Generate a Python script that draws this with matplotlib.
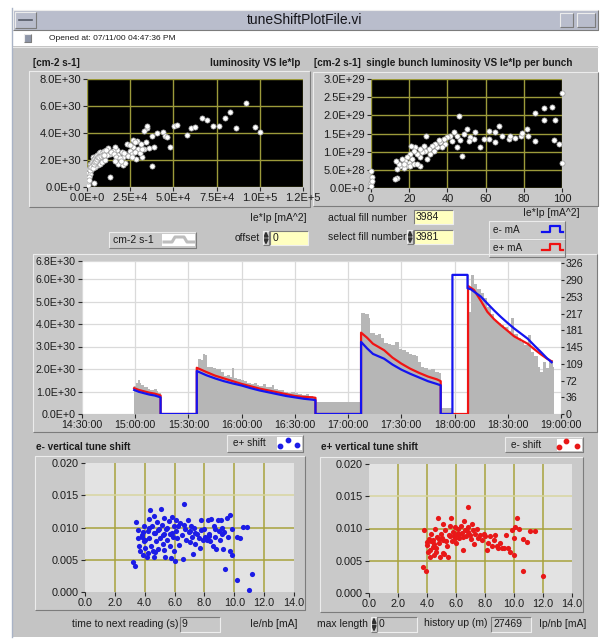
import matplotlib.pyplot as plt
from matplotlib.patches import Rectangle, Polygon
from matplotlib.ticker import FixedLocator

plt.rcParams['font.family'] = ['Liberation Sans', 'DejaVu Sans']

# ---- luminosity vs Ie*Ip (total) ----
lum_x = [92000, 82800, 79900, 66300, 69600, 72700, 76400, 86500, 97200, 100100,
         59900, 62400, 50200, 52100, 57900, 48200, 43900, 40400, 37500, 45300,
         46300, 34600, 35000, 32700, 34200, 29200, 26400, 23300, 26800, 29700,
         33200, 31700, 28400, 22900, 21000, 18100, 20600, 22000, 13200, 37500,
         17100, 16100, 14800, 13200, 11300, 12200, 18100, 20000, 24900, 25900,
         3500, 5400, 7400, 9300, 6400, 4500, 2500, 1600, 1200, 800,
         600, 4300, 1900, 3100, 7400, 8400, 10300, 400, 700, 900,
         1100, 1400, 1800, 2200, 2600, 3000, 3500, 4000, 4600, 5200,
         6000, 6800, 7600, 8600, 9800, 11000, 500, 800, 1200, 1500,
         2000, 2500, 3200, 3800, 4400, 5000, 5600, 6200, 7000, 8000,
         9000, 10000, 300, 600, 1000, 1300, 14000, 15500, 16500, 19000,
         21500, 24000, 26000, 27500, 30500, 32000, 36000, 38500, 25000, 28000,
         31000, 16000, 19500]
lum_y = [6.21, 5.52, 5.09, 5.12, 4.97, 4.52, 4.52, 4.40, 4.47, 4.10,
         4.40, 4.47, 4.52, 4.60, 3.85, 2.98, 4.10, 4.02, 3.78, 3.78,
         3.73, 4.35, 4.52, 4.17, 3.35, 3.40, 3.48, 3.18, 2.98, 2.83,
         2.78, 2.19, 2.11, 2.36, 2.24, 1.74, 1.61, 1.79, 0.75, 1.54,
         2.73, 2.98, 2.68, 2.48, 2.36, 2.86, 2.36, 2.61, 2.68, 2.48,
         2.24, 1.99, 2.11, 2.29, 1.61, 1.49, 1.24, 0.99, 0.75, 0.50,
         0.25, 0.30, 1.74, 1.61, 1.74, 1.86, 1.99, 0.35, 0.60, 0.90,
         1.10, 1.30, 1.45, 1.55, 1.70, 1.85, 1.95, 2.05, 2.15, 2.30,
         2.40, 2.50, 2.60, 2.55, 2.70, 2.75, 0.70, 1.05, 1.35, 1.00,
         1.25, 1.45, 1.40, 1.70, 1.85, 1.95, 2.05, 2.20, 2.25, 2.30,
         2.40, 2.35, 0.15, 0.45, 0.75, 0.55, 2.60, 2.45, 2.20, 2.15,
         2.55, 2.30, 2.20, 2.60, 2.50, 2.85, 2.90, 3.00, 3.10, 3.30,
         3.20, 1.90, 1.95]  # 1e30 cm-2 s-1

# ---- single bunch luminosity vs Ie*Ip per bunch ----
sb_x = [46.1, 47.6, 13.6, 12.7, 0.2, 0.2, 0.2, 100, 100, 98.3,
        96.5, 96.0, 94.8, 90.4, 90.4, 86.0, 85.7, 81.7, 82.0, 78.7,
        79.0, 75.6, 72.1, 72.6, 68.6, 66.8, 65.1, 65.1, 61.6, 61.6,
        59.0, 57.2, 53.8, 54.6, 52.0, 51.1, 50.3, 48.5, 46.8, 45.0,
        43.3, 42.4, 41.5, 39.8, 38.9, 38.0, 37.2, 36.3, 35.4, 34.6,
        33.7, 32.8, 31.9, 31.1, 30.2, 29.3, 28.8, 28.4, 27.6, 26.7,
        25.8, 25.5, 24.1, 23.2, 22.3, 21.5, 20.9, 20.2, 19.7, 18.8,
        18.5, 18.0, 17.1, 16.2, 15.4, 14.5, 13.6, 13.3, 20.6, 22.3,
        17.1, 25.8, 24.1, 45.0, 0.4, 0.3]
sb_y = [1.98, 0.88, 0.28, 0.26, 0.47, 0.14, 0.05, 2.61, 0.70, 1.21,
        1.86, 1.32, 2.22, 2.19, 1.86, 2.07, 1.30, 1.63, 1.42, 1.44,
        1.51, 1.38, 1.35, 1.42, 1.44, 1.70, 1.54, 1.26, 1.58, 1.35,
        1.35, 1.12, 1.35, 1.54, 1.40, 1.30, 1.63, 1.49, 1.32, 1.42,
        1.54, 1.30, 1.44, 1.40, 1.21, 1.35, 1.12, 1.26, 1.32, 1.12,
        1.21, 1.02, 1.16, 0.93, 1.07, 0.79, 1.42, 1.02, 1.16, 0.98,
        0.84, 1.07, 0.93, 1.12, 1.02, 0.79, 1.16, 0.93, 0.70, 0.84,
        0.61, 0.75, 0.56, 0.79, 0.61, 0.65, 0.51, 0.75, 0.61, 0.65,
        0.65, 0.61, 0.65, 1.12, 0.30, 0.20]  # 1e29 cm-2 s-1

# ---- fill history, minutes after 14:30:00 ----
lum_t = [29.4, 30.3, 31.5, 32.5, 33.5, 34.8, 36.0, 37.2, 38.4, 39.6, 40.8, 42.0, 43.0, 44.3,
         64.7, 65.5, 66.8, 68.0, 69.2, 70.3, 72.0, 74.0, 75.5, 77.0, 78.5, 80.0, 81.5, 83.5,
         84.5, 85.5, 87.5, 89.5, 91.5, 93.0, 95.0, 97.0, 98.5, 100.0, 102.0, 103.5, 105.0,
         107.0, 108.5, 110.5, 112.5, 114.0, 116.0, 118.0, 120.0, 122.0, 124.0, 126.0, 128.0,
         130.0, 131.5,
         157.3, 159.8, 161.6, 162.6, 164.9, 166.7, 168.7, 170.5, 172.4, 174.3, 176.7, 178.6,
         180.5, 182.4, 184.3, 186.2, 188.0, 189.5, 191.0, 193.0, 195.0, 197.0, 199.0, 201.0,
         202.2, 208.8,
         217.6, 218.2, 219.1, 221.0, 222.9, 224.8, 226.6, 228.5, 230.4, 232.3, 234.2, 236.1,
         238.0, 239.9, 241.7, 243.6, 245.5, 247.4, 249.3, 251.2, 253.0, 254.9, 256.8, 258.3,
         259.7, 261.5, 263.4, 265.3, 266.2]
lum_v = [1.25, 1.40, 1.50, 1.38, 1.30, 1.22, 1.18, 1.12, 1.08, 1.05, 1.12, 1.02, 0.92, 0.0,
         2.10, 2.45, 2.40, 2.65, 2.62, 2.10, 2.10, 2.05, 2.00, 2.02, 1.85, 1.70, 1.75, 1.65,
         2.05, 1.60, 1.55, 1.50, 1.45, 1.40, 1.35, 1.38, 1.30, 1.25, 1.35, 1.20, 1.22,
         1.30, 1.12, 1.08, 1.05, 1.00, 0.95, 0.98, 0.92, 0.88, 0.85, 0.88, 0.80,
         0.75, 0.55,
         4.50, 4.45, 4.25, 3.60, 3.50, 3.55, 3.40, 3.15, 3.10, 3.05, 3.20, 2.90,
         2.84, 2.75, 2.68, 2.62, 2.58, 2.30, 2.10, 2.03, 1.95, 2.00, 1.88, 1.82,
         0.25, 0.0,
         6.20, 4.55, 6.20, 5.80, 5.55, 5.40, 5.15, 4.75, 4.45, 4.15, 4.05, 3.95,
         3.85, 3.70, 4.25, 3.55, 3.40, 3.20, 3.05, 3.50, 2.75, 2.60, 2.10, 1.85,
         2.30, 2.05, 2.40, 2.10, 0.0]  # 1e30 cm-2 s-1

em_t = [29.4, 32, 35, 38, 41, 44.3, 44.3, 64.7, 64.7, 70, 75, 80, 85, 90, 95, 100, 105,
        110, 115, 120, 125, 130, 131.6, 131.6, 157.3, 157.3, 160.7, 164, 170.3, 175, 180,
        185, 190, 195, 200, 202.2, 202.2, 208.8, 208.8, 217.3, 217.3, 219.1, 224.8, 228.5,
        232.3, 236.1, 239.9, 243.6, 247.4, 251.2, 255, 258.7, 262, 264.7]
em_ma = [52, 48, 45, 42, 40, 36, 0, 0, 93, 84, 77, 71, 66, 61.6, 56, 51, 47,
         43, 39, 36, 33, 31, 30, 0, 0, 156, 142, 130, 119.6, 107, 96,
         87, 79, 71, 65, 62, 0, 0, 301, 301, 272, 270, 254, 239,
         224, 210, 197, 185, 174, 163, 148, 134, 121, 112]

ep_t = [29.4, 32, 35, 38, 41, 44.3, 44.3, 64.7, 64.7, 70, 75, 80, 85, 90, 95, 100, 105,
        110, 115, 120, 125, 130, 131.6, 131.6, 157.3, 157.3, 160.7, 164, 170.3, 175, 180,
        185, 190, 195, 200, 202.2, 202.2, 217.6, 217.6, 221, 224.8, 228.5, 232.3, 236.1,
        239.9, 243.6, 247.4, 251.2, 255, 258.7, 262, 264.7]
ep_ma = [56, 52, 49, 46, 44, 40, 0, 0, 100, 91, 83, 77, 71, 65, 60, 55, 51,
         47, 43, 39, 37, 36, 35, 0, 0, 176, 165, 152, 138, 122, 109,
         98, 89, 81, 75, 71, 0, 0, 277, 268, 245, 221, 205, 192,
         180, 168, 160, 152, 140, 129, 120, 114]

time_ticks = [0, 30, 60, 90, 120, 150, 180, 210, 240, 270]
time_labels = ['14:30:00', '15:00:00', '15:30:00', '16:00:00', '16:30:00',
               '17:00:00', '17:30:00', '18:00:00', '18:30:00', '19:00:00']
current_ticks = [0, 36, 72, 109, 145, 181, 217, 253, 290, 326]

# ---- vertical tune shift ----
em_nb = [3.20, 3.36, 3.40, 3.52, 3.58, 3.65, 3.70, 3.81, 3.88, 3.92, 3.96, 4.05, 4.14, 4.19,
         4.26, 4.32, 4.37, 4.41, 4.48, 4.55, 4.59, 4.64, 4.70, 4.77, 4.82, 4.86, 4.93, 5.00,
         5.08, 5.15, 5.22, 5.26, 5.31, 5.38, 5.44, 5.49, 5.60, 5.67, 5.71, 5.76, 5.82, 5.89,
         5.94, 5.98, 6.05, 6.12, 6.16, 6.23, 6.29, 6.38, 6.50, 6.56, 6.65, 6.72, 6.79, 6.88,
         6.94, 7.01, 7.10, 7.17, 7.24, 7.32, 7.39, 7.50, 7.62, 7.73, 7.80, 7.91, 8.00, 8.06,
         8.18, 8.22, 8.29, 8.40, 8.47, 8.56, 8.62, 8.69, 8.80, 8.89, 8.96, 9.07, 9.12, 9.18,
         9.25, 9.34, 9.41, 9.48, 9.56, 9.70, 9.74, 9.86, 9.86, 10.15, 10.19, 10.37, 10.59,
         10.86, 10.98, 11.20, 3.9, 4.0, 4.3, 4.6, 4.9, 5.2, 5.5, 5.8, 6.1, 6.6, 7.0, 7.4,
         7.8, 8.3, 8.7, 9.2, 4.2, 4.7, 5.3, 3.8]
em_dq = [0.0046, 0.0040, 0.0108, 0.0084, 0.0096, 0.0072, 0.0063, 0.0089, 0.0058, 0.0102,
         0.0079, 0.0068, 0.0055, 0.0094, 0.0084, 0.0113, 0.0127, 0.0072, 0.0102, 0.0063,
         0.0118, 0.0055, 0.0091, 0.0079, 0.0108, 0.0066, 0.0098, 0.0084, 0.0129, 0.0104,
         0.0075, 0.0090, 0.0115, 0.0054, 0.0097, 0.0081, 0.0110, 0.0071, 0.0090, 0.0053,
         0.0117, 0.0086, 0.0103, 0.0063, 0.0048, 0.0112, 0.0084, 0.0102, 0.0073, 0.0107,
         0.0088, 0.0051, 0.0136, 0.0097, 0.0081, 0.0112, 0.0093, 0.0077, 0.0103, 0.0086,
         0.0059, 0.0099, 0.0075, 0.0090, 0.0084, 0.0068, 0.0111, 0.0080, 0.0097, 0.0086,
         0.0081, 0.0112, 0.0090, 0.0079, 0.0113, 0.0072, 0.0102, 0.0085, 0.0066, 0.0111,
         0.0094, 0.0081, 0.0112, 0.0099, 0.0067, 0.0093, 0.0036, 0.0114, 0.0086, 0.0120,
         0.0063, 0.0058, 0.0097, 0.0019, 0.0086, 0.0084, 0.0101, 0.0101, 0.0003, 0.0028,
         0.0093, 0.0081, 0.0100, 0.0092, 0.0096, 0.0088, 0.0099, 0.0092, 0.0095, 0.0104,
         0.0094, 0.0091, 0.0096, 0.0087, 0.0098, 0.0090, 0.0060, 0.0062, 0.0065, 0.0085]

ep_nb = [3.75, 3.91, 3.80, 3.98, 4.10, 4.14, 4.21, 4.28, 4.38, 4.44, 4.49, 4.56, 4.63, 4.72,
         4.79, 4.86, 4.90, 4.97, 5.07, 5.13, 5.20, 5.27, 5.37, 5.43, 5.50, 5.57, 5.64, 5.71,
         5.78, 5.87, 5.94, 6.01, 6.06, 6.15, 6.24, 6.33, 6.40, 6.47, 6.56, 6.63, 6.70, 6.86,
         6.86, 6.98, 7.09, 7.16, 7.25, 7.32, 7.44, 7.55, 7.67, 7.78, 7.90, 8.01, 8.13, 8.24,
         8.36, 8.47, 8.59, 8.70, 8.82, 8.93, 9.05, 9.16, 9.32, 9.46, 9.56, 9.74, 9.86, 9.97,
         9.97, 10.09, 10.20, 10.32, 10.62, 10.62, 10.89, 11.12, 11.47, 11.99, 4.0, 4.3, 4.5,
         4.8, 5.0, 5.3, 5.6, 5.9, 6.2, 6.5, 6.8, 7.0, 4.2, 4.6, 5.1]
ep_dq = [0.0040, 0.0034, 0.0098, 0.0074, 0.0064, 0.0084, 0.0056, 0.0092, 0.0072, 0.0082,
         0.0059, 0.0100, 0.0069, 0.0087, 0.0116, 0.0077, 0.0056, 0.0092, 0.0107, 0.0082,
         0.0061, 0.0097, 0.0073, 0.0056, 0.0090, 0.0104, 0.0117, 0.0081, 0.0095, 0.0088,
         0.0103, 0.0077, 0.0092, 0.0100, 0.0086, 0.0104, 0.0093, 0.0067, 0.0112, 0.0097,
         0.0088, 0.0134, 0.0103, 0.0090, 0.0107, 0.0097, 0.0076, 0.0092, 0.0100, 0.0085,
         0.0090, 0.0082, 0.0091, 0.0088, 0.0066, 0.0077, 0.0089, 0.0073, 0.0082, 0.0090,
         0.0073, 0.0069, 0.0077, 0.0070, 0.0069, 0.0090, 0.0069, 0.0064, 0.0098, 0.0059,
         0.0086, 0.0102, 0.0116, 0.0100, 0.0034, 0.0084, 0.0079, 0.0096, 0.0096, 0.0027,
         0.0079, 0.0081, 0.0076, 0.0083, 0.0086, 0.0080, 0.0089, 0.0085, 0.0091, 0.0087,
         0.0094, 0.0083, 0.0066, 0.0063, 0.0062]

W, H = 600, 639
PANEL = '#c4c4c4'
FRAME = '#c9c9c9'
INK = '#1c1c1c'

fig = plt.figure(figsize=(6, 6.39), dpi=100)
fig.patch.set_facecolor('white')

# pixel-space canvas for the front panel decorations
bg = fig.add_axes([0, 0, 1, 1])
bg.set_xlim(0, W)
bg.set_ylim(H, 0)
bg.axis('off')


def bevel(x0, y0, x1, y1, face, raised=True, lw=0.8):
    bg.add_patch(Rectangle((x0, y0), x1 - x0, y1 - y0, facecolor=face, edgecolor='none'))
    light, dark = ('#ececec', '#7c7c7c') if raised else ('#7c7c7c', '#eeeeee')
    bg.plot([x0, x0, x1], [y1, y0, y0], color=light, lw=lw, solid_capstyle='butt')
    bg.plot([x0, x1, x1], [y1, y1, y0], color=dark, lw=lw, solid_capstyle='butt')


def label(x, y, s, size=7.5, ha='left', weight='normal', color=INK):
    bg.text(x, y, s, fontsize=size, ha=ha, va='center', fontweight=weight, color=color)


def spinner(x0, y0, x1, y1):
    bevel(x0, y0, x1, y1, '#d0d0d0')
    ym = (y0 + y1) / 2
    bg.add_patch(Polygon([[x0 + 1, ym - 1], [x1 - 1, ym - 1], [(x0 + x1) / 2, y0 + 1.5]],
                         closed=True, color='#303030'))
    bg.add_patch(Polygon([[x0 + 1, ym + 1], [x1 - 1, ym + 1], [(x0 + x1) / 2, y1 - 1.5]],
                         closed=True, color='#303030'))


def data_axes(x0, y0, x1, y1):
    return fig.add_axes([x0 / W, 1 - y1 / H, (x1 - x0) / W, (y1 - y0) / H])


# window chrome
bg.plot([12, 12], [8, 637], color='#a9b3c6', lw=1)
bevel(13, 10, 598, 30, '#b9bdcc')
bevel(15, 12, 36, 28, '#b9bdcc')
bg.plot([19, 32], [20, 20], color='#555a66', lw=1.2)
bevel(560, 13, 573, 27, '#b9bdcc')
bevel(577, 13, 595, 27, '#b9bdcc')
label(305, 20, 'tuneShiftPlotFile.vi', size=10, ha='center', color='#15151a')
bg.add_patch(Rectangle((13, 30), 585, 16, facecolor='white', edgecolor='none'))
bevel(24, 34, 31, 42, '#8e96a8')
label(49, 38.5, 'Opened at: 07/11/00 04:47:36 PM', size=6)
bg.add_patch(Rectangle((13, 46), 585, 591, facecolor=PANEL, edgecolor='none'))
bg.plot([13, 598], [46.5, 46.5], color='#e8e8e8', lw=0.8)

# plot frames
bevel(29, 71, 310, 207, FRAME)
bevel(313, 72, 598, 206, FRAME)
bevel(33, 254, 597, 432, FRAME)
bevel(35, 456, 305, 610, FRAME)
bevel(320, 457, 583, 612, FRAME)

# titles
label(33, 63, '[cm-2 s-1]', size=7.2, weight='bold')
label(300, 63, 'luminosity VS Ie*Ip', size=7.2, ha='right', weight='bold')
label(314, 63, '[cm-2 s-1]  single bunch luminosity VS Ie*Ip per bunch', size=7.2, weight='bold')
label(36, 447, 'e- vertical tune shift', size=7.2, weight='bold')
label(321, 447, 'e+ vertical tune shift', size=7.2, weight='bold')

# controls between the top plots and the history chart
label(307, 218, 'Ie*Ip [mA^2]', size=7.5, ha='right')
label(580, 213, 'Ie*Ip [mA^2]', size=7.5, ha='right')
bevel(109, 232, 196, 248, FRAME)
label(113, 240, 'cm-2 s-1', size=7.5)
bg.add_patch(Rectangle((162, 234), 33, 12, facecolor='white', edgecolor='none'))
bg.plot([164, 172, 175, 184, 187, 194], [242, 242, 237, 237, 242, 242], color='#bdbdbd', lw=2.2)
label(260, 238, 'offset', size=7.5, ha='right')
spinner(263, 231, 269, 245)
bevel(270, 231, 308, 245, '#ffffc0', raised=False)
label(273, 238, '0', size=7.5)
label(407, 218, 'actual fill number', size=7.5, ha='right')
bevel(414, 210, 453, 224, '#ffffc0', raised=False)
label(416, 217, '3984', size=7.5)
label(406, 237, 'select fill number', size=7.5, ha='right')
spinner(407, 230, 413, 244)
bevel(414, 230, 453, 244, '#ffffc0', raised=False)
label(416, 237, '3981', size=7.5)

bevel(489, 221, 565, 239, FRAME)
bevel(489, 239, 565, 257, FRAME)
label(493, 230, 'e- mA', size=7.2)
label(493, 248, 'e+ mA', size=7.2)
bg.plot([542, 550, 550, 560, 560, 563], [232, 232, 226, 226, 232, 232], color='#1010f0', lw=1.6)
bg.plot([542, 550, 550, 560, 560, 563], [250, 250, 244, 244, 250, 250], color='#f01010', lw=1.6)

# legends of the tune shift plots
bevel(227, 435, 303, 452, FRAME)
label(233, 443.5, 'e+ shift', size=7.2)
bg.add_patch(Rectangle((277, 437), 25, 13, facecolor='white', edgecolor='none'))
bg.scatter([280, 288, 297], [446, 440, 445], s=10, color='#1c1ce6', zorder=3)
bevel(505, 437, 583, 452, FRAME)
label(511, 444.5, 'e- shift', size=7.2)
bg.add_patch(Rectangle((557, 439), 25, 12, facecolor='white', edgecolor='none'))
bg.scatter([559, 566, 577], [447, 441, 446], s=10, color='#e81818', zorder=3)

# bottom row controls
label(178, 624, 'time to next reading (s)', size=7.5, ha='right')
bevel(180, 617, 220, 632, '#c8c8c8', raised=False)
label(182, 624, '9', size=7.5)
label(297, 624, 'Ie/nb [mA]', size=7.5, ha='right')
label(317, 624, 'max length', size=7.5)
spinner(371, 617, 377, 632)
bevel(377, 617, 417, 632, '#c8c8c8', raised=False)
label(379, 624, '0', size=7.5)
label(424, 623, 'history up (m)', size=7.5)
bevel(491, 617, 531, 632, '#c8c8c8', raised=False)
label(493, 624, '27469', size=7.5)
label(586, 624, 'Ip/nb [mA]', size=7.5, ha='right')


def style(ax, size=8):
    for sp in ax.spines.values():
        sp.set_visible(False)
    ax.tick_params(direction='out', length=3, width=0.8, pad=1.5, labelsize=size,
                   colors='#2a2a2a', labelcolor=INK)


# total luminosity scatter
ax1 = data_axes(87, 79, 303, 187)
ax1.set_facecolor('black')
ax1.scatter(lum_x, [v * 1e30 for v in lum_y], s=14, facecolor='white',
            edgecolor='#9a9a9a', linewidth=0.5, zorder=3)
ax1.set_xlim(0, 1.25e5)
ax1.set_ylim(0, 8e30)
ax1.set_xticks([0, 2.5e4, 5e4, 7.5e4, 1e5, 1.25e5])
ax1.set_xticklabels(['0.0E+0', '2.5E+4', '5.0E+4', '7.5E+4', '1.0E+5', '1.2E+5'])
ax1.set_yticks([0, 2e30, 4e30, 6e30, 8e30])
ax1.set_yticklabels(['0.0E+0', '2.0E+30', '4.0E+30', '6.0E+30', '8.0E+30'])
ax1.grid(True, color='#9c9a3a', lw=1)
style(ax1)

# single bunch scatter
ax2 = data_axes(371, 79, 562, 188)
ax2.set_facecolor('black')
ax2.scatter(sb_x, [v * 1e29 for v in sb_y], s=14, facecolor='white',
            edgecolor='#9a9a9a', linewidth=0.5, zorder=3, clip_on=False)
ax2.set_xlim(0, 100)
ax2.set_ylim(0, 3e29)
ax2.set_xticks([0, 20, 40, 60, 80, 100])
ax2.set_yticks([0, 0.5e29, 1e29, 1.5e29, 2e29, 2.5e29, 3e29])
ax2.set_yticklabels(['0.0E+0', '5.0E+28', '1.0E+29', '1.5E+29', '2.0E+29', '2.5E+29', '3.0E+29'])
ax2.grid(True, color='#9c9a3a', lw=1)
style(ax2)

# fill history: luminosity (left) and beam currents (right)
ax3 = data_axes(82, 261, 561, 414)
ax3.set_facecolor('white')
ax3.fill_between(lum_t, [v * 1e30 for v in lum_v], step='post', color='#b6b6b6', lw=0, zorder=2)
ax3.set_xlim(0, 270)
ax3.set_ylim(0, 6.8e30)
ax3.set_xticks(time_ticks)
ax3.set_xticklabels(time_labels)
ax3.set_yticks([0, 1e30, 2e30, 3e30, 4e30, 5e30, 6e30, 6.8e30])
ax3.set_yticklabels(['0.0E+0', '1.0E+30', '2.0E+30', '3.0E+30', '4.0E+30',
                     '5.0E+30', '6.0E+30', '6.8E+30'])
ax3.grid(True, color='#dadada', lw=0.9, zorder=1)
ax3.set_axisbelow(True)
style(ax3, 7.7)
ax3r = ax3.twinx()
ax3r.plot(ep_t, ep_ma, color='#f01414', lw=1.6, zorder=3)
ax3r.plot(em_t, em_ma, color='#1414f0', lw=1.6, zorder=4)
ax3r.set_ylim(0, 331)
ax3r.yaxis.set_major_locator(FixedLocator(current_ticks))
ax3r.set_yticklabels([str(v) for v in current_ticks])
style(ax3r, 7.7)
ax3r.tick_params(length=2, pad=1)

# tune shift scatters
for x0, x1, y0, y1, xs, ys, col in [(85, 294, 463, 592, em_nb, em_dq, '#1c1ce6'),
                                     (369, 572, 464, 593, ep_nb, ep_dq, '#e81818')]:
    ax = data_axes(x0, y0, x1, y1)
    ax.set_facecolor('#e3e3e3')
    ax.scatter(xs, ys, s=14, color=col, linewidth=0, zorder=3)
    ax.set_xlim(0, 14)
    ax.set_ylim(0, 0.02)
    ax.set_xticks([0, 2, 4, 6, 8, 10, 12, 14])
    ax.set_xticklabels(['0.0', '2.0', '4.0', '6.0', '8.0', '10.0', '12.0', '14.0'])
    ax.set_yticks([0, 0.005, 0.01, 0.015, 0.02])
    ax.set_yticklabels(['0.000', '0.005', '0.010', '0.015', '0.020'])
    for gx in [2, 4, 6, 8, 10, 12]:
        ax.axvline(gx, color='#a8a23c', lw=1.1, zorder=1)
    for gy, gc in [(0.005, '#a8a23c'), (0.01, '#a8a23c'), (0.015, '#d8d5a0')]:
        ax.axhline(gy, color=gc, lw=1.1, zorder=1)
    style(ax, 7.8)

fig.savefig('out.png', dpi=100)
